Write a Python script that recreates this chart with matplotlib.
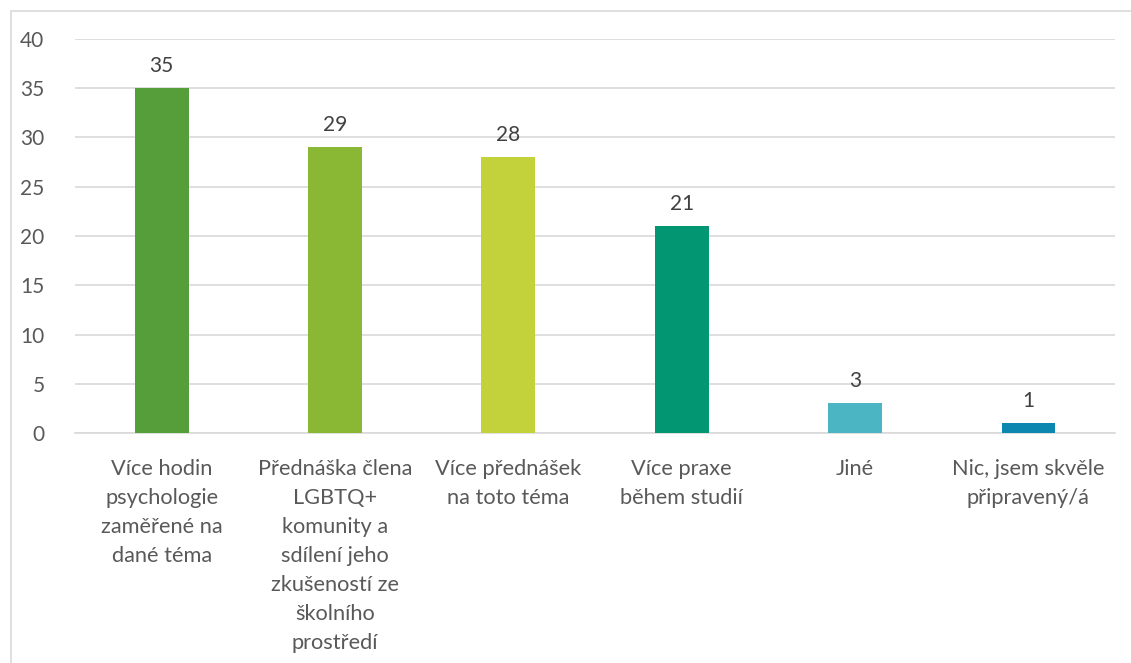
import matplotlib.pyplot as plt
from matplotlib.patches import Rectangle

categories = [
    "Více hodin\npsychologie\nzaměřené na\ndané téma",
    "Přednáška člena\nLGBTQ+\nkomunity a\nsdílení jeho\nzkušeností ze\nškolního\nprostředí",
    "Více přednášek\nna toto téma",
    "Více praxe\nběhem studií",
    "Jiné",
    "Nic, jsem skvěle\npřipravený/á",
]
counts = [35, 29, 28, 21, 3, 1]
bar_colors = ["#559E3A", "#8BB834", "#C3D13A", "#039672", "#4BB5C4", "#0B87B0"]
yticks = [0, 5, 10, 15, 20, 25, 30, 35, 40]

plt.rcParams['font.family'] = ['Lato', 'DejaVu Sans']

fig = plt.figure(figsize=(11.31, 6.63), dpi=100)
ax = fig.add_axes([0.0663, 0.3469, 0.9196, 0.5943])

x = list(range(len(categories)))
bars = ax.bar(x, counts, width=0.31, color=bar_colors, zorder=3)

for xi, v in zip(x, counts):
    ax.annotate(str(v), (xi, v), xytext=(0, 9), textcoords="offset points",
                ha="center", va="bottom", fontsize=15, color="#404040")

ax.set_xlim(-0.5, len(categories) - 0.5)
ax.set_ylim(0, 40)
ax.set_yticks(yticks)
ax.set_xticks(x)
ax.set_xticklabels(categories, fontsize=15.7, color="#595959", linespacing=1.56,
                   va="top")
ax.tick_params(axis="y", labelsize=15, labelcolor="#595959", length=0, pad=22)
ax.tick_params(axis="x", length=0, pad=19)

ax.grid(axis="y", color="#D9D9D9", linewidth=1.2, zorder=0)
for side in ["top", "right", "left"]:
    ax.spines[side].set_visible(False)
ax.spines["bottom"].set_color("#D9D9D9")
ax.spines["bottom"].set_linewidth(1.2)

# light chart-area frame
fig.patches.append(Rectangle((11 / 1131, -0.01), 1.02, 1 - 11 / 663 + 0.01,
                             transform=fig.transFigure, fill=False,
                             edgecolor="#D9D9D9", linewidth=1.2))

fig.savefig("out.png", dpi=100)
